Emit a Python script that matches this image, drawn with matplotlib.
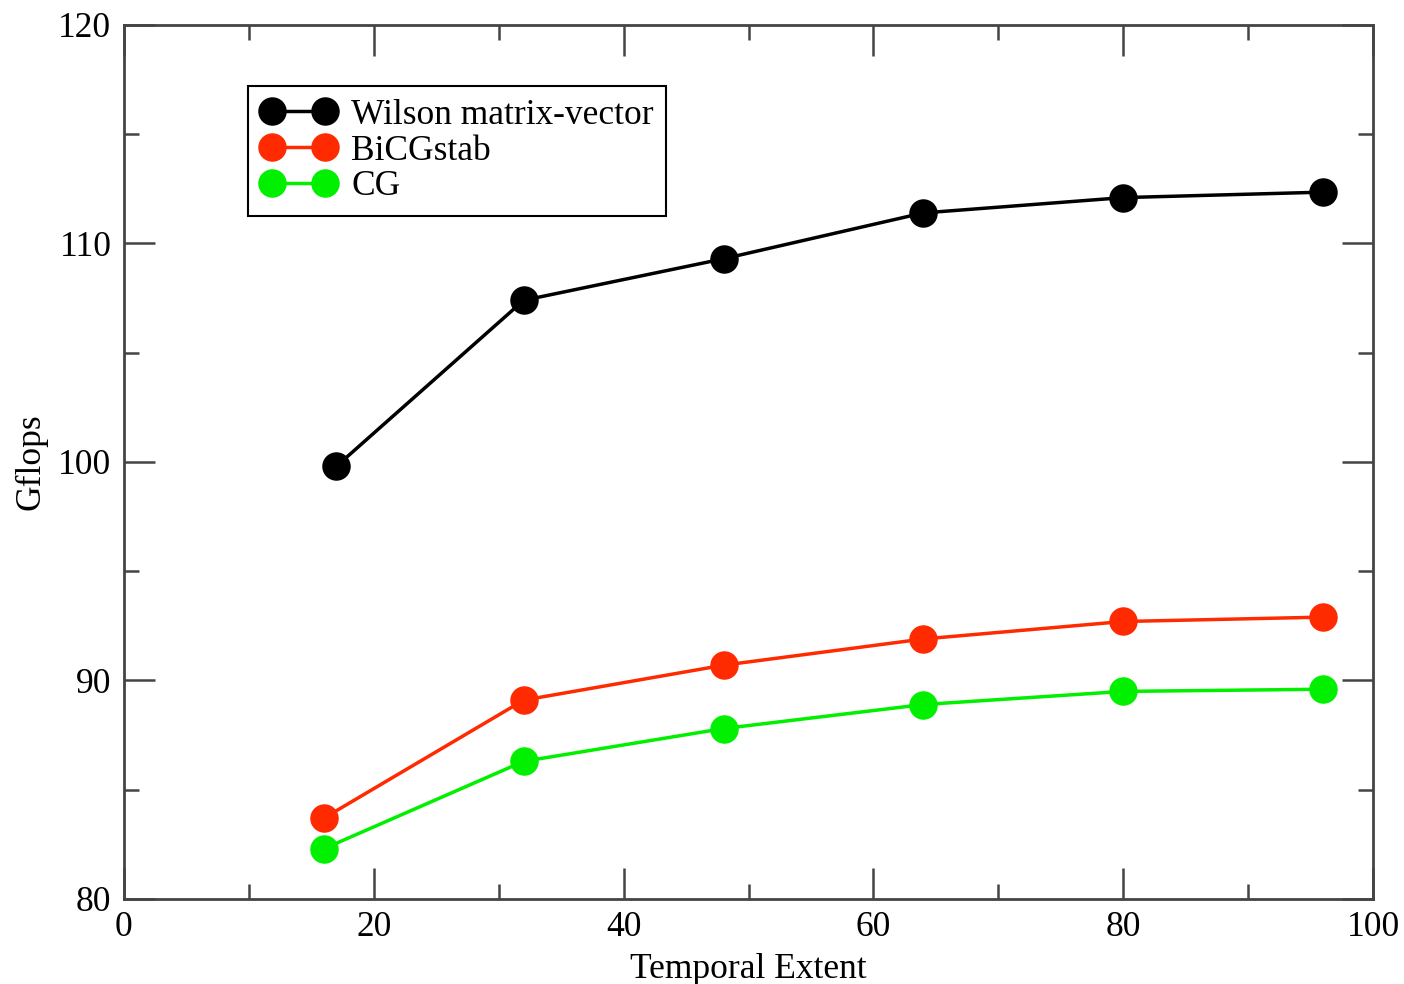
import matplotlib.pyplot as plt
from matplotlib.ticker import MultipleLocator

plt.rcParams['font.family'] = ['Liberation Serif', 'DejaVu Serif']
Fontsize = 25.5

t_wilson = [17, 32, 48, 64, 80, 96]
wilson = [99.8, 107.4, 109.3, 111.4, 112.1, 112.35]

t_solver = [16, 32, 48, 64, 80, 96]
bicgstab = [83.7, 89.1, 90.7, 91.9, 92.7, 92.9]
cg = [82.3, 86.3, 87.8, 88.9, 89.5, 89.6]

fig = plt.figure(figsize=(14.04, 9.84), dpi=100)
ax = fig.add_axes([0.0883, 0.0864, 0.8897, 0.8882])

style = dict(marker='o', markersize=19.5, linewidth=2.5)
ax.plot(t_wilson, wilson, color='black', label='Wilson matrix-vector', **style)
ax.plot(t_solver, bicgstab, color='#ff2a00', label='BiCGstab', **style)
ax.plot(t_solver, cg, color='#00f000', label='CG', **style)

ax.set_xlim(0, 100)
ax.set_ylim(80, 120)
ax.xaxis.set_major_locator(MultipleLocator(20))
ax.xaxis.set_minor_locator(MultipleLocator(10))
ax.yaxis.set_major_locator(MultipleLocator(10))
ax.yaxis.set_minor_locator(MultipleLocator(5))
ax.tick_params(which='both', direction='in', top=True, right=True,
               color='#444444', width=1.8, labelsize=Fontsize, pad=9)
ax.tick_params(which='major', length=22)
ax.tick_params(which='minor', length=11)
for spine in ax.spines.values():
    spine.set_linewidth(2)
    spine.set_color('#444444')

ax.set_xlabel('Temporal Extent', fontsize=Fontsize, labelpad=6)
ax.set_ylabel('Gflops', fontsize=Fontsize, labelpad=8)

leg = ax.legend(loc='upper left', bbox_to_anchor=(0.0855, 0.95), numpoints=2,
                fontsize=Fontsize, fancybox=False, edgecolor='black',
                handlelength=2.1, handletextpad=0.45, labelspacing=0.08,
                borderpad=0.35, framealpha=1)
leg.get_frame().set_linewidth(1.5)

plt.savefig('out.png', dpi=100)
